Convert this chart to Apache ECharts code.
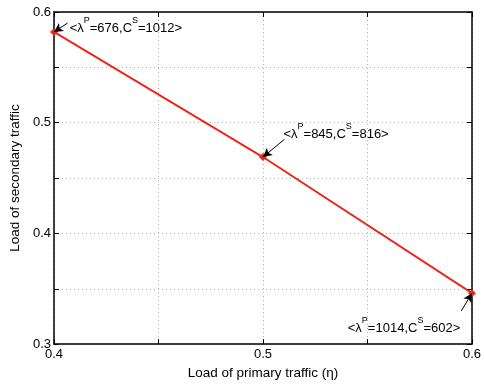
<!DOCTYPE html>
<html>
<head>
<meta charset="utf-8">
<script src="https://cdn.jsdelivr.net/npm/echarts@6/dist/echarts.min.js"></script>
<style>
  html, body { margin: 0; padding: 0; background: #fff; }
  #chart { width: 484px; height: 385px; }
</style>
</head>
<body>
<div id="chart"></div>
<script>
// data
const primaryLoad = [0.4, 0.5, 0.6];
const secondaryLoad = [0.582, 0.469, 0.346];
const lambdaP = [676, 845, 1014];
const capS = [1012, 816, 602];
// where each annotation arrow starts (data units) and where its text sits
const arrowTail = [[0.4065, 0.590], [0.5103, 0.485], [0.5949, 0.330]];
const textAnchor = [[0.4075, 0.588], [0.5098, 0.492], [0.5944, 0.317]];
const textAlign = ['left', 'left', 'right'];

const font = 'Liberation Sans, Arial, sans-serif';
const red = '#e8281e';

const chart = echarts.init(document.getElementById('chart'), null, { renderer: 'canvas' });

const axisBase = {
  type: 'value',
  interval: 0.05,
  axisLine: { show: true, lineStyle: { color: '#000', width: 1.5 } },
  axisTick: { show: true, inside: true, length: 5, lineStyle: { color: '#000', width: 1 } },
  splitLine: { show: false },
};

const fmt = v => {
  const r = Math.round(v * 100);
  return r % 10 === 0 ? (r / 100).toFixed(1) : '';
};

const annoPoints = primaryLoad.map((x, i) => ({
  coord: textAnchor[i],
  symbol: 'circle',
  symbolSize: 0,
  label: {
    show: true,
    position: textAlign[i] === 'left' ? 'right' : 'left',
    distance: 0,
    formatter: `{a|<λ}{s|P}{a|=${lambdaP[i]},C}{s|S}{a|=${capS[i]}>}`,
    rich: {
      a: { fontFamily: font, fontSize: 13, color: '#000', lineHeight: 19, verticalAlign: 'bottom' },
      s: { fontFamily: font, fontSize: 9, color: '#000', lineHeight: 19, verticalAlign: 'top' },
    },
  },
}));

const arrows = primaryLoad.map((x, i) => [
  { coord: arrowTail[i], symbol: 'none' },
  { coord: [x, secondaryLoad[i]], symbol: 'arrow', symbolSize: [7, 9] },
]);

chart.setOption({
  animation: false,
  textStyle: { fontFamily: font },
  grid: { left: 49, right: 7, top: 12, bottom: 36, containLabel: false },
  xAxis: [
    {
      ...axisBase,
      min: 0.4, max: 0.6,
      position: 'bottom',
      name: 'Load of primary traffic (η)',
      nameLocation: 'middle',
      nameGap: 21,
      nameTextStyle: { fontFamily: font, fontSize: 13.5, color: '#000' },
      axisLabel: { formatter: fmt, color: '#000', fontSize: 13, fontFamily: font, margin: 4, showMaxLabel: true, showMinLabel: true },
      splitLine: { show: true, lineStyle: { color: '#b0b0b0', type: [1, 3], width: 1 } },
    },
    {
      ...axisBase,
      min: 0.4, max: 0.6,
      position: 'top',
      axisLabel: { show: false },
    },
  ],
  yAxis: [
    {
      ...axisBase,
      min: 0.3, max: 0.6,
      position: 'left',
      name: 'Load of secondary traffic',
      nameLocation: 'middle',
      nameGap: 29,
      nameTextStyle: { fontFamily: font, fontSize: 13.5, color: '#000' },
      axisLabel: { formatter: fmt, color: '#000', fontSize: 13, fontFamily: font, margin: 3, showMaxLabel: true, showMinLabel: true },
      splitLine: { show: true, lineStyle: { color: '#b0b0b0', type: [1, 3], width: 1 } },
    },
    {
      ...axisBase,
      min: 0.3, max: 0.6,
      position: 'right',
      axisLabel: { show: false },
    },
  ],
  series: [
    {
      type: 'line',
      data: primaryLoad.map((x, i) => [x, secondaryLoad[i]]),
      symbol: 'diamond',
      symbolSize: 8,
      showAllSymbol: true,
      clip: false,
      lineStyle: { color: red, width: 2 },
      itemStyle: { color: red },
      z: 3,
      markLine: {
        silent: true,
        animation: false,
        label: { show: false },
        lineStyle: { color: '#000', width: 1, type: 'solid' },
        data: arrows,
      },
      markPoint: {
        silent: true,
        animation: false,
        data: annoPoints,
      },
    },
  ],
});
</script>
</body>
</html>
